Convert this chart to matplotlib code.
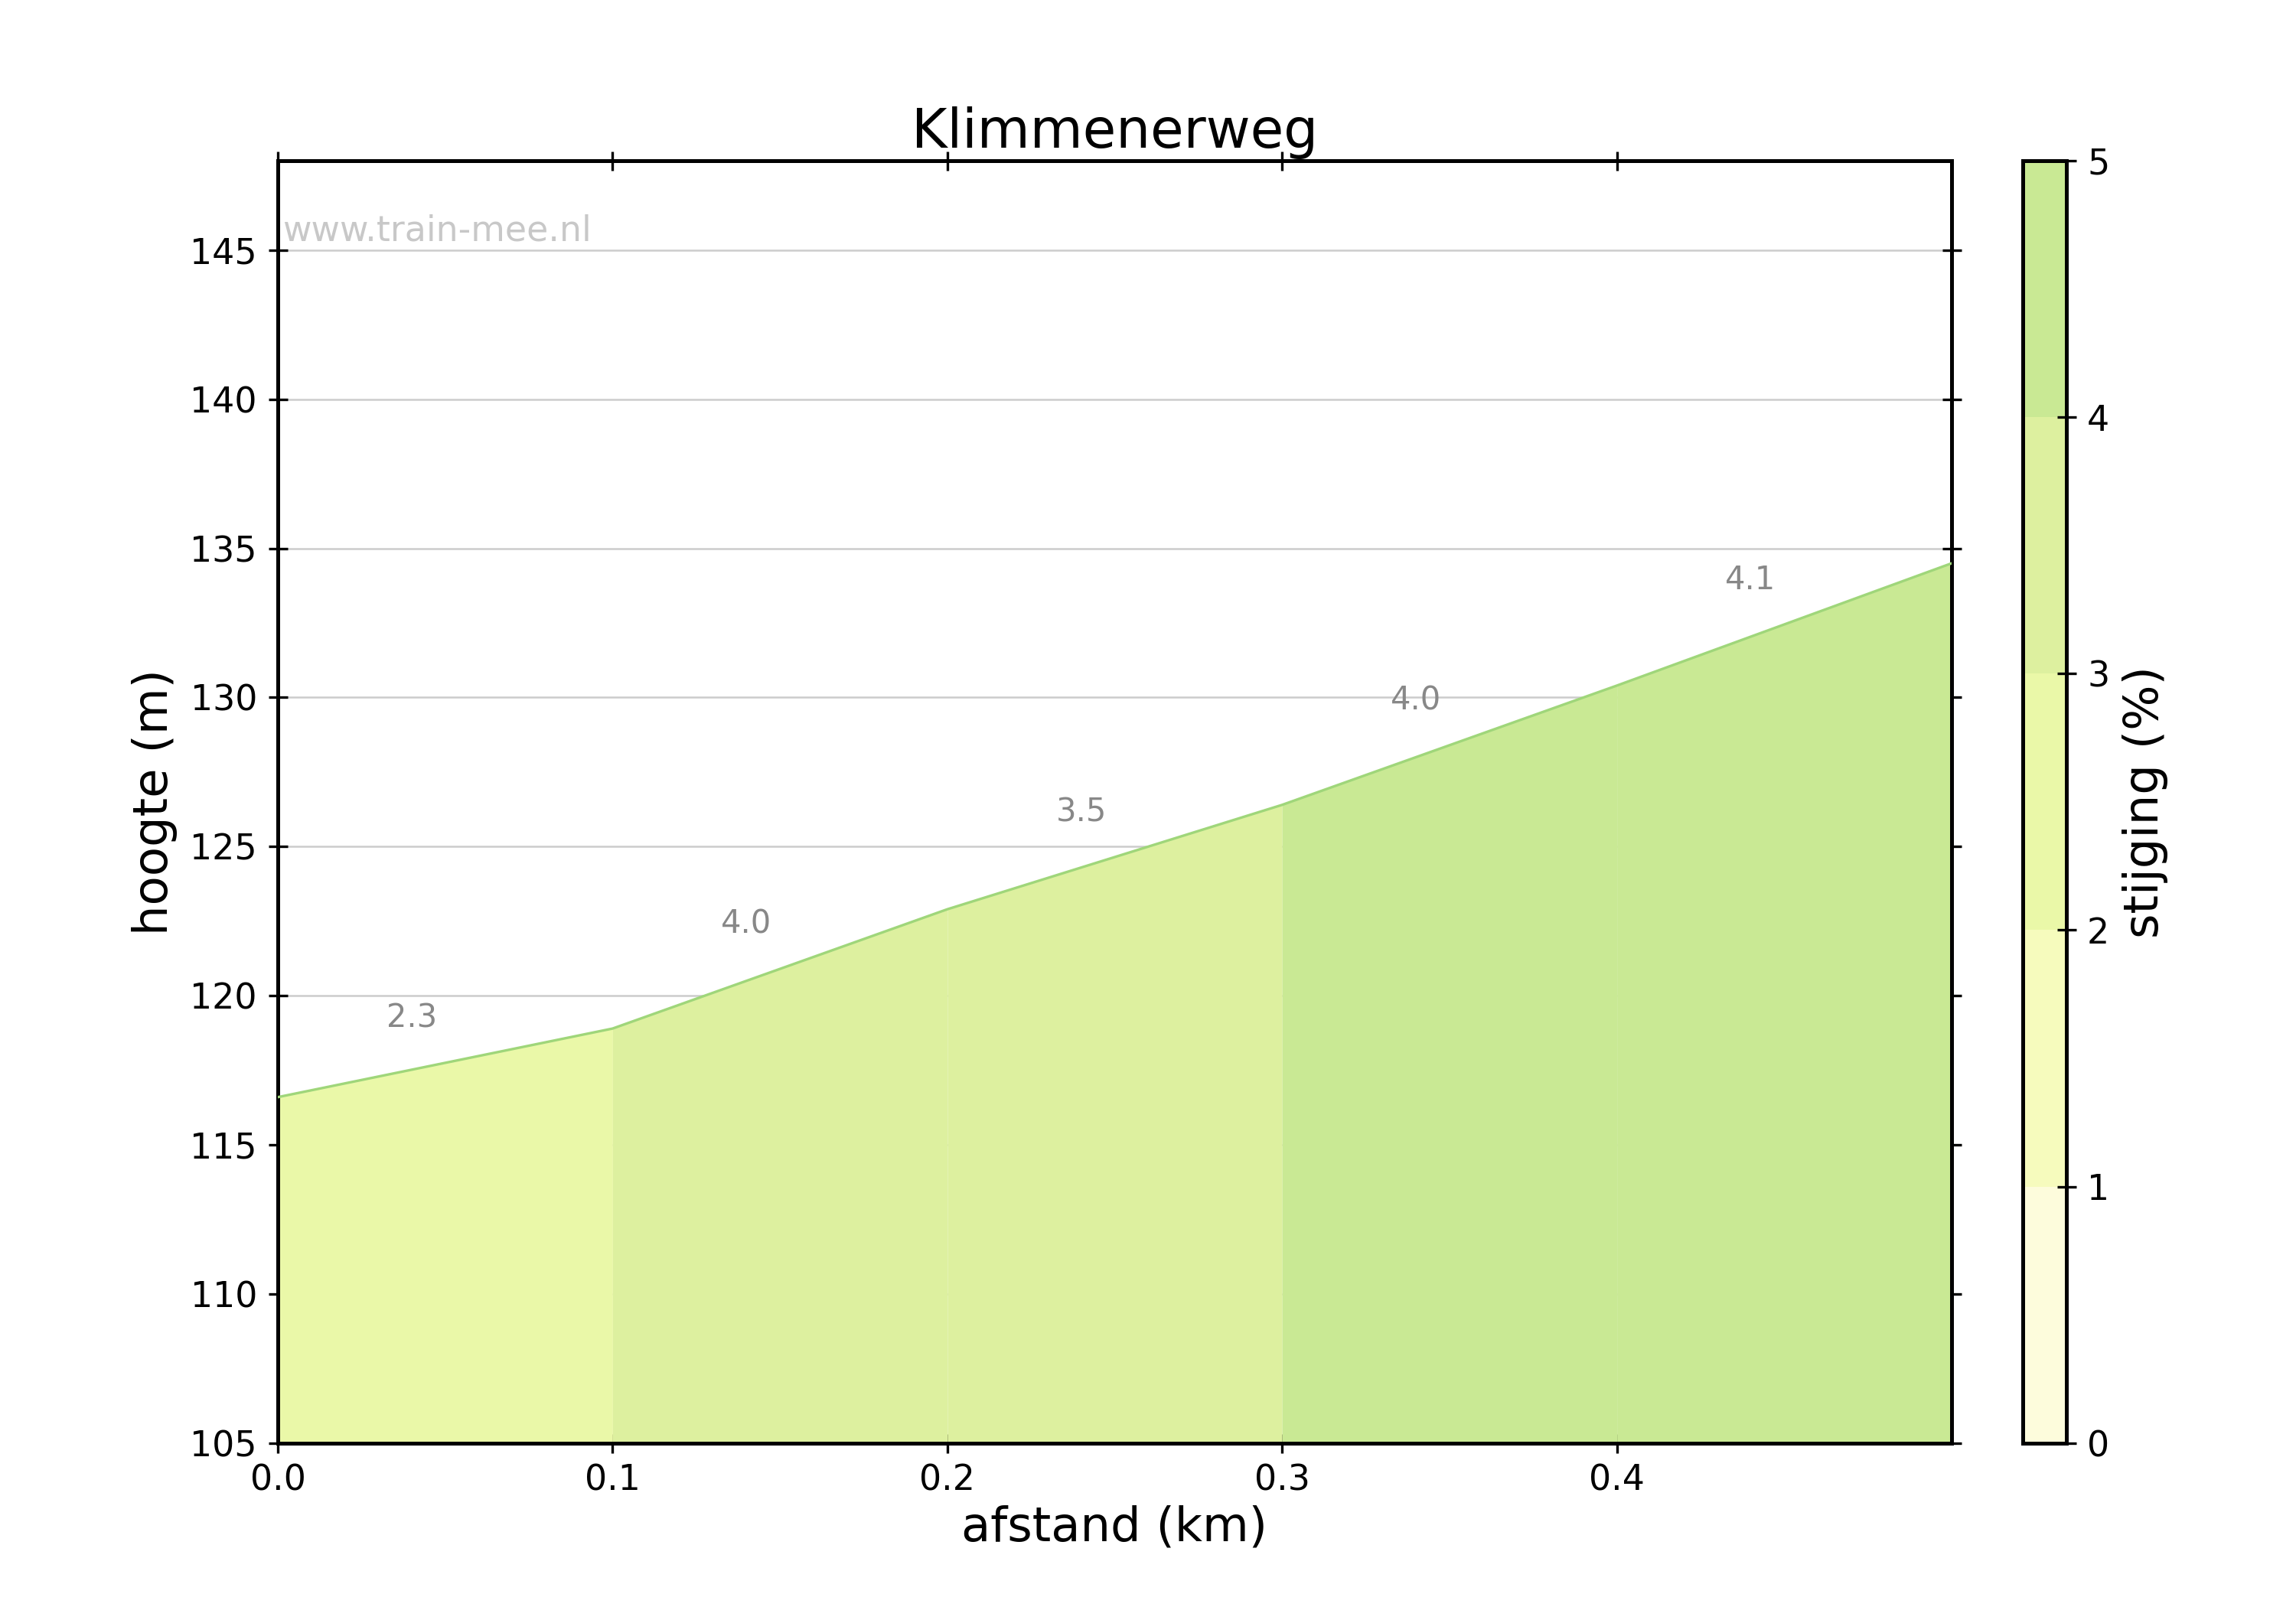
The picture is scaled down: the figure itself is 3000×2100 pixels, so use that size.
import numpy as np
import matplotlib.pyplot as plt
from matplotlib.colors import ListedColormap, BoundaryNorm
import matplotlib.colorbar as mcolorbar

# distance (km) and height (m) at segment boundaries
afstand = [0.0, 0.1, 0.2, 0.3, 0.4, 0.5]
hoogte = [116.6, 118.9, 122.9, 126.4, 130.4, 134.5]
stijging = [2.3, 3.96, 3.5, 4.0, 4.1]
band_colors = ['#fdfcdc', '#f6fbbd', '#eaf8a8', '#ddf09f', '#c9e994']

cmap = ListedColormap(band_colors)
norm = BoundaryNorm([0, 1, 2, 3, 4, 5], cmap.N)

fig = plt.figure(figsize=(10, 7), dpi=300)
ax = fig.add_axes([0.121, 0.102, 0.729, 0.798])

for i in range(len(stijging)):
    x = afstand[i:i + 2]
    y = hoogte[i:i + 2]
    ax.fill_between(x, 105, y, color=cmap(norm(stijging[i])), linewidth=0, zorder=2)
    ax.text(np.mean(x) - 0.01, np.mean(y) + 1.5, f'{stijging[i]:.1f}',
            ha='center', va='center', color='#888888', fontsize=10, zorder=3)
ax.plot(afstand, hoogte, color='#9fd67a', linewidth=0.8, zorder=3)

ax.set_xlim(0, 0.5)
ax.set_ylim(105, 148)
ax.set_xticks([0.0, 0.1, 0.2, 0.3, 0.4])
ax.set_yticks(range(105, 150, 5))
ax.yaxis.grid(True, color='#cccccc', linewidth=0.6, zorder=1)
ax.set_axisbelow(True)
ax.tick_params(direction='inout', top=True, right=True, length=6, labelsize=11)
for s in ax.spines.values():
    s.set_linewidth(1.2)
ax.set_title('Klimmenerweg', fontsize=17, pad=4)
ax.set_xlabel('afstand (km)', fontsize=15, labelpad=2)
ax.set_ylabel('hoogte (m)', fontsize=15)
ax.text(0.003, 0.945, 'www.train-mee.nl', transform=ax.transAxes,
        color='#c8c8c8', fontsize=11, va='center')

cax = fig.add_axes([0.881, 0.102, 0.019, 0.798])
cb = mcolorbar.ColorbarBase(cax, cmap=cmap, norm=norm, ticks=[0, 1, 2, 3, 4, 5])
cb.outline.set_linewidth(1.2)
cax.tick_params(labelsize=11, direction='inout', length=6)
cb.set_label('stijging (%)', fontsize=15)

fig.savefig('out.png')
